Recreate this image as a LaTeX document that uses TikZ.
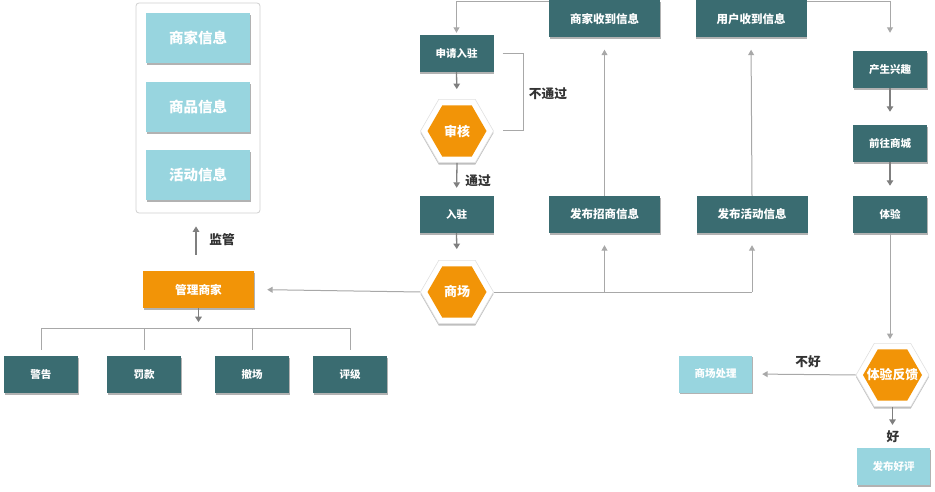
\documentclass[tikz,border=0pt]{standalone}
\usepackage{fontspec}
\setmainfont{Noto Sans CJK SC}
\usetikzlibrary{shapes.geometric,arrows.meta,shadows}
\definecolor{teal1}{HTML}{3A6C71}
\definecolor{orng}{HTML}{F29407}
\definecolor{lblue}{HTML}{98D5DF}
\definecolor{arrg}{HTML}{7F7F7F}
\definecolor{lineg}{HTML}{A8A8A8}
\definecolor{dtext}{HTML}{333333}
\tikzset{
  fs/.style={font=\bfseries\fontsize{#1}{#1}\selectfont},
  shad/.style={drop shadow={shadow xshift=0.8pt,shadow yshift=-1.6pt,opacity=0.3,fill=black}},
  tbox/.style={rectangle,fill=teal1,text=white,inner sep=0pt,minimum width=74pt,minimum height=37pt,shad,fs=10.5},
  tboxw/.style={tbox,minimum width=111pt,fs=11.5},
  lbox/.style={rectangle,fill=lblue,text=white,inner sep=0pt,minimum width=73pt,minimum height=37pt,shad,fs=10.5},
  obox/.style={rectangle,fill=orng,text=white,inner sep=0pt,minimum width=111pt,minimum height=37pt,shad,fs=11.7},
  hexout/.style={regular polygon,regular polygon sides=6,minimum size=73pt,inner sep=0pt,fill=white,draw=black!12,line width=0.6pt,
     drop shadow={shadow xshift=0pt,shadow yshift=-2pt,opacity=0.25,fill=black}},
  hexin/.style={regular polygon,regular polygon sides=6,minimum size=59pt,inner sep=0pt,fill=orng},
  hextext/.style={text=white,fs=#1,inner sep=0pt},
  arr/.style={draw=arrg,line width=1.3pt,-{Triangle[length=5.5pt,width=6.5pt]}},
  arrt/.style={draw=lineg,line width=1pt,-{Triangle[length=5.5pt,width=6pt]}},
  conn/.style={draw=lineg,line width=1pt},
  lab/.style={text=dtext,fs=12.7,inner sep=0pt},
}
\begin{document}
\begin{tikzpicture}[x=1pt,y=-1pt]
\useasboundingbox (0,0) rectangle (935,492);
% panel
\node[rectangle,rounded corners=3pt,draw=black!18,fill=white,line width=0.8pt,minimum width=124pt,minimum height=210pt] (panel) at (198,108) {};
\node[lbox,minimum width=104pt,minimum height=50pt,fs=14.5] (i1) at (198,38) {商家信息};
\node[lbox,minimum width=104pt,minimum height=50pt,fs=14.5] (i2) at (198,107) {商品信息};
\node[lbox,minimum width=104pt,minimum height=50pt,fs=14.5] (i3) at (198,175) {活动信息};
% manage merchants
\node[obox] (mgr) at (198.5,289.5) {管理商家};
\node[tbox] (b1) at (41,374.5) {警告};
\node[tbox] (b2) at (144,374.5) {罚款};
\node[tbox] (b3) at (252,374.5) {撤场};
\node[tbox] (b4) at (350,374.5) {评级};
\draw[arr,shorten <=16pt,shorten >=13pt] (mgr.north -| 196,0) -- (panel.south -| 196,0);
\node[lab] (jg) at (222,240) {监管};
\draw[arr] (mgr.south) -- ++(0,14) coordinate (mgrtip);
\draw[conn] ([yshift=6pt]b1.north) -- ([yshift=27pt]b1.north) -- ([yshift=27pt]b4.north) -- ([yshift=6pt]b4.north);
\draw[conn] ([yshift=6pt]b2.north) -- ([yshift=27pt]b2.north);
\draw[conn] ([yshift=6pt]b3.north) -- ([yshift=27pt]b3.north);
% middle column
\node[tbox] (apply) at (456.5,53.5) {申请入驻};
\node[hexout] (audit) at (457,131) {};
\node[hexin,label={[hextext=13]center:审核}] (auditi) at (457,131) {};
\node[tbox] (ruzhu) at (456.5,214.5) {入驻};
\node[hexout] (mall) at (457,292) {};
\node[hexin,label={[hextext=13]center:商场}] (malli) at (457,292) {};
\draw[arr,shorten >=10pt] (apply.south) -- (audit.north);
\draw[arr,shorten >=8pt] (audit.south) -- (ruzhu.north);
\draw[arr,shorten >=11pt] (ruzhu.south) -- (mall.north);
\draw[conn] ([xshift=9pt]apply.east) -- ([xshift=30pt]apply.east) |- ([xshift=9pt]audit.east);
\node[lab] (nopass) at (548,94) {不通过};
\node[lab] (pass) at (478,181) {通过};
\draw[arrt,shorten >=13pt] (mall.west) -- (mgr.east);
% merchant info
\node[tboxw] (m1) at (604.5,19) {商家收到信息};
\node[tboxw] (pz) at (604.5,214.5) {发布招商信息};
\draw[arrt,shorten >=2pt] ([yshift=-1.5pt]m1.north west) -| (apply.north);
\draw[arrt,shorten >=12pt] (pz.north) -- (m1.south);
% user info
\node[tboxw] (u1) at (751,19) {用户收到信息};
\node[tboxw] (pa) at (752,214.5) {发布活动信息};
\draw[arrt,shorten >=12pt] (pa.north) -- (u1.south);
\draw[conn] (mall.east) -- (mall.east -| pa.south);
\draw[arrt] (mall.east -| pz.south) -- ([yshift=-12pt]pz.south);
\draw[arrt] (mall.east -| pa.south) -- ([yshift=-12pt]pa.south);
% right column
\node[tbox] (x1) at (890,69.5) {产生兴趣};
\node[tbox] (x2) at (890,143.5) {前往商城};
\node[tbox] (x3) at (890,214.5) {体验};
\draw[arrt,shorten >=18pt] ([yshift=-1.5pt]u1.north east) -| (x1.north);
\draw[arr,shorten >=13pt] (x1.south) -- (x2.north);
\draw[arr,shorten >=10pt] (x2.south) -- (x3.north);
\node[hexout] (fb) at (892.5,375) {};
\node[hexin,label={[hextext=12.8]center:体验反馈}] (fbi) at (892.5,375) {};
\draw[arrt,shorten >=4pt] (x3.south) -- (x3.south |- fb.north);
\node[lbox] (sc) at (715.5,374) {商场处理};
\node[lbox] (hp) at (893.5,466.5) {发布好评};
\draw[arrt,shorten >=10pt] (fb.west) -- (sc.east);
\node[lab] (bad) at (808,362) {不好};
\draw[arr] (fb.south) -- ++(0,18);
\node[lab] (good) at (893,437) {好};
\end{tikzpicture}
\end{document}
